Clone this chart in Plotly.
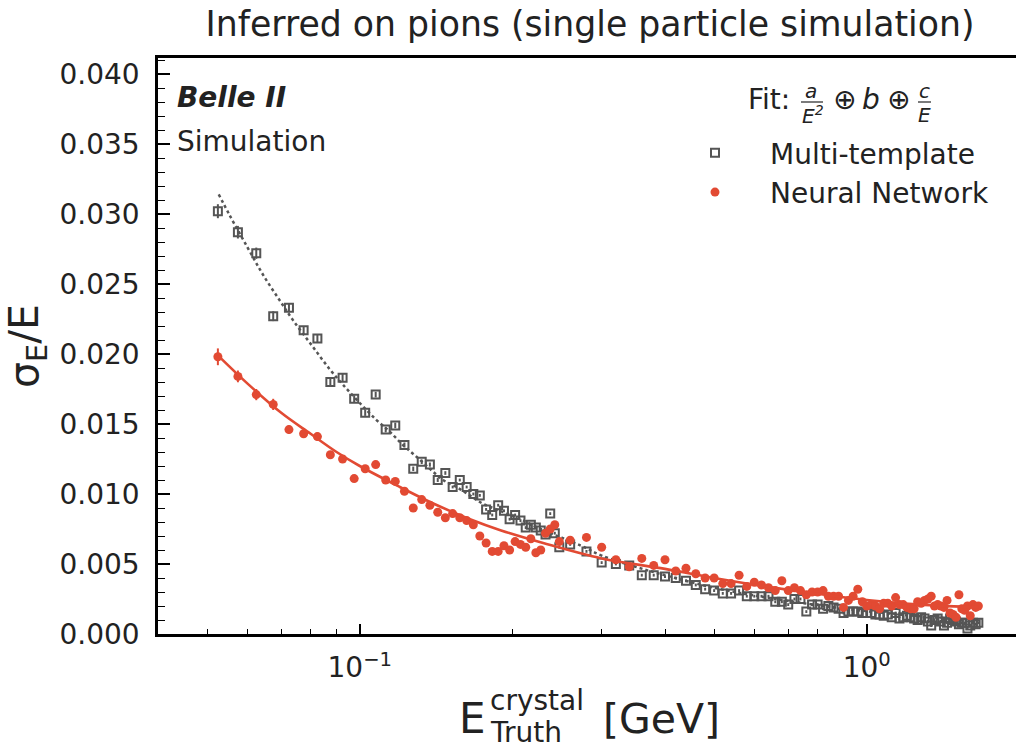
import plotly.graph_objects as go

# ---- energy bins (GeV) ----
e_low = [0.0525, 0.0575, 0.0625, 0.0675, 0.0725, 0.0775, 0.0825, 0.0875, 0.0925, 0.0975,
         0.1025, 0.1075, 0.1125, 0.1175, 0.1225, 0.1275, 0.1325, 0.1375, 0.1425, 0.1475,
         0.1525, 0.1575, 0.1625, 0.1675, 0.1725, 0.1775, 0.1825, 0.1875, 0.1925, 0.1975,
         0.2025, 0.2075, 0.2125, 0.2175, 0.2225, 0.2275, 0.2325, 0.2375, 0.2425, 0.2475]
e_high = [0.26, 0.28, 0.30, 0.32, 0.34, 0.36, 0.38, 0.40, 0.42, 0.44,
          0.46, 0.48, 0.50, 0.52, 0.54, 0.56, 0.58, 0.60, 0.62, 0.64,
          0.66, 0.68, 0.70, 0.72, 0.74, 0.76, 0.78, 0.80, 0.82, 0.84,
          0.86, 0.88, 0.90, 0.92, 0.94, 0.96, 0.98, 1.00,
          1.02, 1.04, 1.06, 1.08, 1.10, 1.12, 1.14, 1.16, 1.18, 1.20,
          1.22, 1.24, 1.26, 1.28, 1.30, 1.32, 1.34, 1.36, 1.38, 1.40,
          1.42, 1.44, 1.46, 1.48, 1.50, 1.52, 1.54, 1.56, 1.58, 1.60,
          1.62, 1.64, 1.66]

# ---- sigma_E / E : Multi-template ----
mt_low = [0.0302, 0.0287, 0.0272, 0.0227, 0.0233, 0.0217, 0.0211, 0.0180, 0.0183, 0.0168,
          0.0158, 0.0171, 0.0146, 0.0149, 0.0135, 0.0118, 0.0123, 0.0121, 0.0110, 0.0115,
          0.0105, 0.0110, 0.0105, 0.0100, 0.0099, 0.0089, 0.0085, 0.0092, 0.0088, 0.0082,
          0.0085, 0.0081, 0.0076, 0.0078, 0.0076, 0.0074, 0.0071, 0.0086, 0.0072, 0.0062]
mt_high = [0.0064, 0.0059, 0.0051, 0.0050, 0.0049, 0.0042, 0.0042, 0.0041, 0.0040, 0.0038,
           0.0035, 0.0032, 0.0031, 0.0029, 0.0029, 0.0031, 0.0027, 0.0027, 0.0027, 0.0027,
           0.0023, 0.0023, 0.0021, 0.0025, 0.0025, 0.0016, 0.0021, 0.0021, 0.0018, 0.0020,
           0.0019, 0.0018, 0.0015, 0.0016, 0.0016, 0.0016, 0.0015, 0.0015,
           0.0015, 0.0014, 0.0014, 0.0013, 0.0014, 0.0012, 0.0015, 0.0011, 0.0012, 0.0013,
           0.0012, 0.0011, 0.0010, 0.0012, 0.0011, 0.0009, 0.0006, 0.0010, 0.0011, 0.0009,
           0.0006, 0.0008, 0.0011, 0.0010, 0.0009, 0.0007, 0.0008, 0.0008, 0.0004, 0.0006,
           0.0008, 0.0007, 0.0008]
mt_err_low = [0.0005, 0.00045, 0.0004, 0.00035, 0.00032, 0.0003, 0.0003, 0.0003, 0.00028, 0.00025,
              0.00022, 0.0002, 0.0002, 0.0002, 0.00018, 0.00016, 0.00016, 0.00015, 0.00014, 0.00013]

# ---- sigma_E / E : Neural Network ----
nn_low = [0.0198, 0.0184, 0.0171, 0.0164, 0.0146, 0.0143, 0.0141, 0.0128, 0.0125, 0.0111,
          0.0118, 0.0121, 0.0110, 0.0109, 0.0102, 0.0090, 0.0096, 0.0092, 0.0087, 0.0083,
          0.0086, 0.0083, 0.0081, 0.0078, 0.0070, 0.0065, 0.0059, 0.0059, 0.0063, 0.0060,
          0.0066, 0.0064, 0.0062, 0.0068, 0.0058, 0.0060, 0.0072, 0.0075, 0.0078, 0.0066]
nn_high = [0.0067, 0.0069, 0.0062, 0.0053, 0.0048, 0.0054, 0.0049, 0.0053, 0.0045, 0.0047,
           0.0043, 0.0040, 0.0040, 0.0036, 0.0036, 0.0042, 0.0034, 0.0037, 0.0035, 0.0033,
           0.0031, 0.0038, 0.0031, 0.0033, 0.0031, 0.0028, 0.0030, 0.0030, 0.0031, 0.0027,
           0.0027, 0.0027, 0.0019, 0.0024, 0.0027, 0.0032, 0.0023, 0.0020,
           0.0021, 0.0020, 0.0018, 0.0022, 0.0022, 0.0020, 0.0026, 0.0021, 0.0021, 0.0019,
           0.0018, 0.0018, 0.0023, 0.0022, 0.0024, 0.0025, 0.0027, 0.0020, 0.0021, 0.0020,
           0.0019, 0.0024, 0.0015, 0.0014, 0.0012, 0.0028, 0.0018, 0.0017, 0.0020, 0.0013,
           0.0021, 0.0019, 0.0020]
nn_err_low = [0.0006, 0.00042, 0.0004, 0.0004, 0.0003, 0.0003, 0.0003, 0.00025, 0.00022, 0.0002,
              0.0002, 0.0002, 0.00018, 0.00018, 0.00016, 0.00016, 0.00015, 0.00014, 0.00013, 0.00012]

# ---- fitted resolution curves ----
mt_fit_e = [0.0527, 0.0554, 0.0602, 0.0646, 0.0696, 0.0739, 0.0805, 0.0873, 0.0927, 0.100,
            0.1078, 0.1146, 0.1217, 0.1294, 0.1379, 0.146, 0.1551, 0.1648, 0.175, 0.186,
            0.2073, 0.2309, 0.2733, 0.30, 0.35, 0.40, 0.50, 0.60, 0.75, 1.0, 1.3, 1.66]
mt_fit_val = [0.0314, 0.0299, 0.02755, 0.0256, 0.0238, 0.0224, 0.0206, 0.0189, 0.0178, 0.0165,
              0.0153, 0.01445, 0.0135, 0.01266, 0.01176, 0.0110, 0.0105, 0.0099, 0.0093, 0.0089,
              0.0082, 0.0074, 0.0063, 0.0056, 0.0048, 0.0042, 0.0033, 0.00275, 0.0022, 0.00163,
              0.00124, 0.00097]
nn_fit_e = [0.0525, 0.06, 0.07, 0.08, 0.09, 0.10, 0.12, 0.14, 0.165, 0.19,
            0.23, 0.30, 0.40, 0.50, 0.60, 0.75, 1.00, 1.30, 1.66]
nn_fit_val = [0.0199, 0.0179, 0.0158, 0.0143, 0.0130, 0.0120, 0.0105, 0.0093, 0.0082, 0.0074,
              0.0065, 0.0054, 0.00465, 0.0040, 0.00352, 0.0030, 0.00243, 0.00208, 0.00192]

energy = e_low + e_high
mt_vals = mt_low + mt_high
nn_vals = nn_low + nn_high
mt_err = mt_err_low + [0.0001] * (len(energy) - len(mt_err_low))
nn_err = nn_err_low + [0.0001] * (len(energy) - len(nn_err_low))

GRAY = "#555555"
RED = "#E24A33"
INK = "#222222"
FONT = "DejaVu Sans"

# plot-area geometry (pixels) used to place the text labels
W, H = 1016, 749
PL, PT, PR, PB = 158, 58, 1016, 634


def px(x):
    return (x - PL) / (PR - PL)


def py(y):
    return (PB - y) / (PB - PT)


fig = go.Figure()

fig.add_trace(go.Scatter(
    x=energy, y=mt_vals, mode="markers", name="Multi-template",
    marker=dict(symbol="square-open", size=8, color=GRAY, line=dict(width=2, color=GRAY)),
    error_y=dict(type="data", array=mt_err, color=GRAY, thickness=2, width=0),
))
fig.add_trace(go.Scatter(
    x=mt_fit_e, y=mt_fit_val, mode="lines", showlegend=False,
    line=dict(color=GRAY, width=2.5, dash="dot", shape="spline", smoothing=1.0),
))
fig.add_trace(go.Scatter(
    x=energy, y=nn_vals, mode="markers", name="Neural Network",
    marker=dict(symbol="circle", size=9, color=RED),
    error_y=dict(type="data", array=nn_err, color=RED, thickness=2, width=0),
))
fig.add_trace(go.Scatter(
    x=nn_fit_e, y=nn_fit_val, mode="lines", showlegend=False,
    line=dict(color=RED, width=2.6, shape="spline", smoothing=1.0),
))

minor_x = [0.04, 0.05, 0.06, 0.07, 0.08, 0.09, 0.2, 0.3, 0.4, 0.5, 0.6, 0.7, 0.8, 0.9]

fig.update_xaxes(
    type="log", range=[-1.39794, -1.39794 + (PR - PL) / 507.0],
    showline=True, linecolor="black", linewidth=2.5, mirror=True,
    ticks="inside", ticklen=10, tickwidth=1.5, tickcolor="black",
    tickvals=[0.1, 1.0], ticktext=["10<sup>−1</sup>", "10<sup>0</sup>"],
    minor=dict(ticks="inside", ticklen=5, tickwidth=1.2, tickcolor="black", tickvals=minor_x),
    showgrid=False, zeroline=False,
    tickfont=dict(size=28, family=FONT, color=INK),
    ticklabelstandoff=7,
)
fig.update_yaxes(
    range=[0, (PB - PT) / 14000.0],
    showline=True, linecolor="black", linewidth=2.5, mirror=False,
    ticks="inside", ticklen=12, tickwidth=1.5, tickcolor="black",
    tick0=0, dtick=0.005, tickformat=".3f",
    minor=dict(ticks="inside", ticklen=7, tickwidth=1.2, tickcolor="black", dtick=0.001),
    showgrid=False, zeroline=False,
    tickfont=dict(size=28, family=FONT, color=INK),
    ticklabelstandoff=10,
    title=dict(text="σ<sub>E</sub>/E", font=dict(size=41, family=FONT, color=INK), standoff=14),
)

ann = []


def label(text, x, y, size, xanchor="left", italic=False):
    ann.append(dict(
        text=text, x=px(x), y=py(y), xref="paper", yref="paper",
        xanchor=xanchor, yanchor="middle", showarrow=False,
        font=dict(size=size, family=FONT, color=INK, style="italic" if italic else "normal"),
    ))


label("<b><i>Belle II</i></b>", 175, 97, 28)
label("Simulation", 175, 141, 28)

# fit function header: a/E^2 (+) b (+) c/E
label("Fit:", 746, 99, 28)
label("a", 811, 91, 20, xanchor="center", italic=True)
label("E<sup>2</sup>", 813, 115, 20, xanchor="center", italic=True)
label("⊕", 844, 99, 28, xanchor="center")
label("b", 871, 99, 28, xanchor="center", italic=True)
label("⊕", 898, 99, 28, xanchor="center")
label("c", 924, 91, 20, xanchor="center", italic=True)
label("E", 924, 115, 20, xanchor="center", italic=True)

# x-axis title with stacked super/subscript
label("E", 457, 718, 42)
label("crystal", 488, 700, 28)
label("Truth", 488, 732, 28)
label("[GeV]", 601, 719, 41)

shapes = [
    dict(type="line", xref="paper", yref="paper", x0=px(801), x1=px(823), y0=py(102), y1=py(102),
         line=dict(color=INK, width=1.2)),
    dict(type="line", xref="paper", yref="paper", x0=px(918), x1=px(931), y0=py(102), y1=py(102),
         line=dict(color=INK, width=1.2)),
]

fig.update_layout(
    width=W, height=H,
    margin=dict(l=PL, r=W - PR, t=PT, b=H - PB),
    paper_bgcolor="white", plot_bgcolor="white",
    font=dict(family=FONT, color=INK),
    title=dict(text="Inferred on pions (single particle simulation)",
               x=590 / W, xref="container", xanchor="center",
               y=1 - 24 / H, yref="container", yanchor="middle",
               font=dict(size=34.7, family=FONT, color=INK)),
    legend=dict(x=px(660), y=py(128), xanchor="left", yanchor="top",
                font=dict(size=28, family=FONT, color=INK),
                bgcolor="rgba(0,0,0,0)", borderwidth=0, itemwidth=100,
                tracegroupgap=0),
    annotations=ann,
    shapes=shapes,
)

fig.write_html("out.html")
